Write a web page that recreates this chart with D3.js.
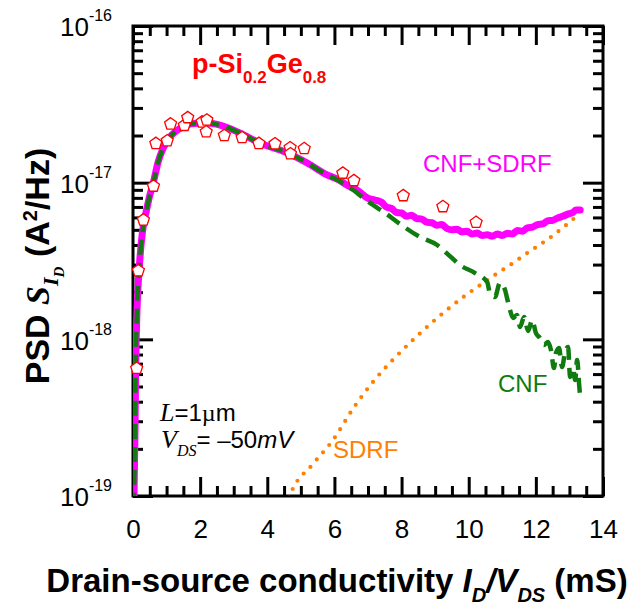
<!DOCTYPE html>
<html>
<head>
<meta charset="utf-8">
<script src="https://cdn.jsdelivr.net/npm/d3@7"></script>
<style>
  body { margin: 0; background: #fff; }
  svg { display: block; }
  text { font-family: "Liberation Sans", Arial, sans-serif; }
</style>
</head>
<body>
<svg id="chart" width="637" height="606"></svg>
<script>
// Drain-source conductivity I_D/V_DS (mS) and drain current noise PSD (A^2/Hz)

// Model: total noise, carrier number fluctuations + series resistance (CNF+SDRF)
const totalG = [0.01, 0.03, 0.06, 0.08, 0.12, 0.18, 0.24, 0.33, 0.39, 0.49, 0.61, 0.75, 0.90, 1.10, 1.25, 1.50,
  1.80, 2.20, 2.59, 3.19, 3.78, 4.59, 5.18, 5.78, 6.10, 6.37, 6.70, 7.00, 7.20, 7.40, 7.55, 7.70, 7.85, 8.00,
  8.15, 8.30, 8.45, 8.60, 8.75, 8.90, 9.05, 9.20, 9.35, 9.50, 9.65, 9.80, 9.95, 10.10, 10.25, 10.40, 10.55,
  10.70, 10.85, 11.00, 11.15, 11.30, 11.45, 11.60, 11.75, 11.90, 12.05, 12.20, 12.35, 12.50, 12.65, 12.80,
  12.95, 13.10, 13.20, 13.32];
const totalPSD = [6.0e-20, 1.0e-19, 2.64e-19, 6.56e-19, 1.54e-18, 2.74e-18, 4.0e-18, 5.69e-18, 6.5e-18, 8.13e-18,
  1.01e-17, 1.36e-17, 1.66e-17, 1.96e-17, 2.11e-17, 2.28e-17, 2.39e-17, 2.40e-17, 2.33e-17, 2.07e-17, 1.79e-17,
  1.55e-17, 1.34e-17, 1.12e-17, 1.05e-17, 9.66e-18, 8.9e-18, 7.95e-18, 7.75e-18, 7.5e-18, 7.0e-18, 6.85e-18,
  6.45e-18, 6.4e-18, 6.1e-18, 6.2e-18, 5.9e-18, 5.85e-18, 5.6e-18, 5.55e-18, 5.35e-18, 5.4e-18, 5.1e-18,
  5.0e-18, 5.05e-18, 4.85e-18, 4.9e-18, 4.7e-18, 4.78e-18, 4.6e-18, 4.65e-18, 4.55e-18, 4.7e-18, 4.6e-18,
  4.75e-18, 4.7e-18, 4.95e-18, 4.9e-18, 5.15e-18, 5.2e-18, 5.4e-18, 5.45e-18, 5.7e-18, 5.75e-18, 5.95e-18,
  6.1e-18, 6.3e-18, 6.45e-18, 6.7e-18, 6.7e-18];

// Carrier number fluctuation component (CNF)
const cnfG = [0.01, 0.03, 0.06, 0.08, 0.12, 0.18, 0.24, 0.33, 0.39, 0.49, 0.61, 0.75, 0.90, 1.10, 1.25, 1.50,
  1.80, 2.20, 2.59, 3.19, 3.78, 4.59, 5.18, 5.78, 6.10, 6.37, 6.60, 6.85, 7.15, 7.51, 7.95, 8.55, 9.06, 9.44,
  9.74, 10.19, 10.55, 10.63, 10.78, 10.93, 11.08, 11.14, 11.23, 11.32, 11.44, 11.53, 11.65, 11.77, 11.89,
  12.00, 12.12, 12.24, 12.36, 12.45, 12.54, 12.60, 12.69, 12.78, 12.87, 12.96, 13.02, 13.11, 13.17, 13.23,
  13.29, 13.32];
const cnfPSD = [6.0e-20, 1.0e-19, 2.64e-19, 6.56e-19, 1.54e-18, 2.74e-18, 4.0e-18, 5.69e-18, 6.5e-18, 8.13e-18,
  1.01e-17, 1.36e-17, 1.66e-17, 1.96e-17, 2.11e-17, 2.28e-17, 2.39e-17, 2.40e-17, 2.33e-17, 2.07e-17, 1.79e-17,
  1.55e-17, 1.34e-17, 1.12e-17, 1.04e-17, 9.5e-18, 8.85e-18, 8.0e-18, 7.2e-18, 6.4e-18, 5.45e-18, 4.5e-18,
  4.0e-18, 3.4e-18, 2.98e-18, 2.65e-18, 2.32e-18, 1.98e-18, 1.86e-18, 2.29e-18, 2.07e-18, 1.84e-18, 1.54e-18,
  1.37e-18, 1.43e-18, 1.20e-18, 1.39e-18, 1.13e-18, 1.33e-18, 1.10e-18, 1.02e-18, 9.2e-19, 9.6e-19, 8.55e-19,
  6.56e-19, 8.18e-19, 8.81e-19, 6.65e-19, 8.30e-19, 8.93e-19, 5.75e-19, 6.56e-19, 5.50e-19, 7.38e-19, 5.12e-19,
  4.28e-19];

// Source/drain resistance fluctuation component (SDRF)
const sdrfG = [4.55, 4.70, 5.36, 5.96, 6.55, 7.15, 7.74, 8.34, 8.85, 9.35, 9.85, 10.34, 10.83, 11.32, 11.82,
  12.33, 12.80, 13.26];
const sdrfPSD = [8.5e-20, 1.04e-19, 1.6e-19, 2.28e-19, 3.6e-19, 5.35e-19, 7.4e-19, 9.91e-19, 1.25e-18, 1.54e-18,
  1.87e-18, 2.22e-18, 2.62e-18, 3.07e-18, 3.65e-18, 4.31e-18, 5.15e-18, 6.22e-18];

// Measured noise
const measG = [0.11, 0.16, 0.31, 0.61, 0.68, 1.02, 1.12, 1.53, 1.63, 2.06, 2.20, 2.18, 2.72, 3.25, 3.75, 4.23,
  4.68, 4.69, 5.10, 6.25, 6.58, 8.05, 9.23, 10.22];
const measPSD = [6.53e-19, 2.74e-18, 5.78e-18, 9.5e-18, 1.78e-17, 1.85e-17, 2.37e-17, 2.32e-17, 2.60e-17,
  2.44e-17, 2.51e-17, 2.11e-17, 2.0e-17, 1.94e-17, 1.78e-17, 1.77e-17, 1.67e-17, 1.53e-17, 1.65e-17, 1.15e-17,
  1.03e-17, 8.26e-18, 7.03e-18, 5.58e-18];

const xTickValues = [0, 2, 4, 6, 8, 10, 12, 14];
const xMinorValues = [0.5, 1, 1.5, 2.5, 3, 3.5, 4.5, 5, 5.5, 6.5, 7, 7.5, 8.5, 9, 9.5, 10.5, 11, 11.5, 12.5, 13, 13.5];
const yTickValues = [1e-19, 1e-18, 1e-17, 1e-16];
const yTickExponents = ["-19", "-18", "-17", "-16"];

const colors = { total: "#ff00ff", cnf: "#107c10", sdrf: "#ff8000", meas: "#ff0000", axis: "#000" };

const plot = { left: 133, top: 26, right: 603, bottom: 496 };
const svg = d3.select("#chart");

const x = d3.scaleLinear().domain([0, 14]).range([plot.left, plot.right]);
const y = d3.scaleLog().domain([1e-19, 1e-16]).range([plot.bottom, plot.top]);
const yMinorValues = y.ticks().filter(v => !yTickValues.some(t => Math.abs(t - v) / t < 1e-6));

// clipping for the curves
svg.append("defs").append("clipPath").attr("id", "plotClip")
  .append("rect")
  .attr("x", plot.left).attr("y", plot.top)
  .attr("width", plot.right - plot.left).attr("height", plot.bottom - plot.top);

// ---- axes: inward ticks on all four sides
function styleTicks(g) {
  g.select(".domain").remove();
  g.selectAll(".tick line").attr("stroke", colors.axis).attr("stroke-width", 3);
}
const W = plot.right - plot.left, H = plot.bottom - plot.top;

// bottom
svg.append("g").attr("transform", `translate(0,${plot.bottom})`)
  .call(d3.axisBottom(x).tickValues(xMinorValues).tickSize(-10).tickFormat(""))
  .call(styleTicks);
const xAxisG = svg.append("g").attr("transform", `translate(0,${plot.bottom})`)
  .call(d3.axisBottom(x).tickValues(xTickValues).tickSize(-19).tickPadding(24).tickFormat(d3.format("d")))
  .call(styleTicks);
xAxisG.selectAll(".tick text").attr("font-size", 26).attr("fill", "#000")
  .attr("font-family", "Liberation Sans, Arial, sans-serif");

// top
svg.append("g").attr("transform", `translate(0,${plot.top})`)
  .call(d3.axisTop(x).tickValues(xMinorValues).tickSize(-10).tickFormat(""))
  .call(styleTicks);
svg.append("g").attr("transform", `translate(0,${plot.top})`)
  .call(d3.axisTop(x).tickValues(xTickValues).tickSize(-19).tickFormat(""))
  .call(styleTicks);

// left
svg.append("g").attr("transform", `translate(${plot.left},0)`)
  .call(d3.axisLeft(y).tickValues(yMinorValues).tickSize(-10).tickFormat(""))
  .call(styleTicks);
const yAxisG = svg.append("g").attr("transform", `translate(${plot.left},0)`)
  .call(d3.axisLeft(y).tickValues(yTickValues).tickSize(-20).tickPadding(21).tickFormat(""))
  .call(styleTicks);
yAxisG.selectAll(".tick text").each(function (d, i) {
  const t = d3.select(this).attr("dy", null).attr("font-size", 26).attr("fill", "#000")
    .attr("font-family", "Liberation Sans, Arial, sans-serif");
  t.append("tspan").attr("dy", "0.38em").text("10");
  t.append("tspan").attr("font-size", 16).attr("dy", -15).text(yTickExponents[i]);
});

// right
svg.append("g").attr("transform", `translate(${plot.right},0)`)
  .call(d3.axisRight(y).tickValues(yMinorValues).tickSize(-10).tickFormat(""))
  .call(styleTicks);
svg.append("g").attr("transform", `translate(${plot.right},0)`)
  .call(d3.axisRight(y).tickValues(yTickValues).tickSize(-20).tickFormat(""))
  .call(styleTicks);

// frame
svg.append("rect")
  .attr("x", plot.left).attr("y", plot.top).attr("width", W).attr("height", H)
  .attr("fill", "none").attr("stroke", colors.axis).attr("stroke-width", 3);

// ---- curves
const curves = svg.append("g").attr("clip-path", "url(#plotClip)");
const line = d3.line().x(d => x(d[0])).y(d => y(d[1])).curve(d3.curveMonotoneX);
const pairs = (gs, ps) => gs.map((g, i) => [g, ps[i]]);

curves.append("path").datum(pairs(totalG, totalPSD))
  .attr("d", line).attr("fill", "none").attr("stroke", colors.total)
  .attr("stroke-width", 7).attr("stroke-linejoin", "round").attr("stroke-linecap", "round");

curves.append("path").datum(pairs(sdrfG, sdrfPSD))
  .attr("d", line).attr("fill", "none").attr("stroke", colors.sdrf)
  .attr("stroke-width", 4.2).attr("stroke-linecap", "round").attr("stroke-dasharray", "0 9.6");

curves.append("path").datum(pairs(cnfG, cnfPSD))
  .attr("d", line).attr("fill", "none").attr("stroke", colors.cnf)
  .attr("stroke-width", 4.5).attr("stroke-linejoin", "round").attr("stroke-dasharray", "15 8");

// measured points: open pentagons
const pentagon = {
  draw(ctx, size) {
    const r = Math.sqrt(size / 2.378);
    for (let k = 0; k < 5; k++) {
      const a = -Math.PI / 2 + k * 2 * Math.PI / 5;
      if (k === 0) ctx.moveTo(r * Math.cos(a), r * Math.sin(a));
      else ctx.lineTo(r * Math.cos(a), r * Math.sin(a));
    }
    ctx.closePath();
  }
};
svg.append("g").selectAll("path").data(pairs(measG, measPSD)).join("path")
  .attr("transform", d => `translate(${x(d[0])},${y(d[1])})`)
  .attr("d", d3.symbol().type(pentagon).size(2.378 * 6.3 * 6.3))
  .attr("fill", "#fff").attr("stroke", colors.meas).attr("stroke-width", 1.3);

// ---- annotations
const title = svg.append("text").attr("x", 192).attr("y", 73)
  .attr("fill", colors.meas).attr("font-weight", "bold").attr("font-size", 27);
title.append("tspan").text("p-Si");
title.append("tspan").attr("font-size", 17).attr("dy", 10).text("0.2");
title.append("tspan").attr("dy", -10).text("Ge");
title.append("tspan").attr("font-size", 17).attr("dy", 10).text("0.8");

svg.append("text").attr("x", 423).attr("y", 172).attr("font-size", 24)
  .attr("fill", colors.total).text("CNF+SDRF");
svg.append("text").attr("x", 498).attr("y", 392).attr("font-size", 24)
  .attr("fill", colors.cnf).text("CNF");
svg.append("text").attr("x", 333).attr("y", 458).attr("font-size", 24)
  .attr("fill", colors.sdrf).text("SDRF");

const lText = svg.append("text").attr("x", 160).attr("y", 421).attr("font-size", 24).attr("fill", "#000");
lText.append("tspan").attr("font-family", "Liberation Serif, Times New Roman, serif")
  .attr("font-style", "italic").attr("font-size", 26).text("L");
lText.append("tspan").text("=1");
lText.append("tspan").attr("font-family", "Liberation Serif, Times New Roman, serif").text("\u00b5");
lText.append("tspan").text("m");

const vText = svg.append("text").attr("x", 161).attr("y", 448).attr("font-size", 24).attr("fill", "#000");
vText.append("tspan").attr("font-family", "Liberation Serif, Times New Roman, serif")
  .attr("font-style", "italic").attr("font-size", 26).text("V");
vText.append("tspan").attr("font-family", "Liberation Serif, Times New Roman, serif")
  .attr("font-style", "italic").attr("font-size", 16).attr("dy", 8).text("DS");
vText.append("tspan").attr("dy", -8).text("= \u201350");
vText.append("tspan").attr("font-style", "italic").text("mV");

// ---- axis titles
const xTitle = svg.append("text").attr("x", 337).attr("y", 592).attr("text-anchor", "middle")
  .attr("font-size", 33).attr("font-weight", "bold").attr("fill", "#000");
xTitle.append("tspan").text("Drain-source conductivity ");
xTitle.append("tspan").attr("font-style", "italic").text("I");
xTitle.append("tspan").attr("font-style", "italic").attr("font-size", 20).attr("dy", 10).text("D");
xTitle.append("tspan").attr("font-style", "italic").attr("dy", -10).text("/V");
xTitle.append("tspan").attr("font-style", "italic").attr("font-size", 20).attr("dy", 10).text("DS");
xTitle.append("tspan").attr("dy", -10).text(" (mS)");

const yTitle = svg.append("text").attr("transform", "translate(49,266) rotate(-90)")
  .attr("text-anchor", "middle").attr("font-size", 34).attr("font-weight", "bold").attr("fill", "#000");
yTitle.append("tspan").text("PSD ");
yTitle.append("tspan").attr("font-family", "Liberation Serif, Times New Roman, serif")
  .attr("font-style", "italic").text("S");
yTitle.append("tspan").attr("font-family", "Liberation Serif, Times New Roman, serif")
  .attr("font-style", "italic").attr("font-size", 22).attr("dy", 9).text("I");
yTitle.append("tspan").attr("font-family", "Liberation Serif, Times New Roman, serif")
  .attr("font-style", "italic").attr("font-size", 15).attr("dy", 6).text("D");
yTitle.append("tspan").attr("dy", -15).text(" (A");
yTitle.append("tspan").attr("font-size", 20).attr("dy", -12).text("2");
yTitle.append("tspan").attr("dy", 12).text("/Hz)");
</script>
</body>
</html>
